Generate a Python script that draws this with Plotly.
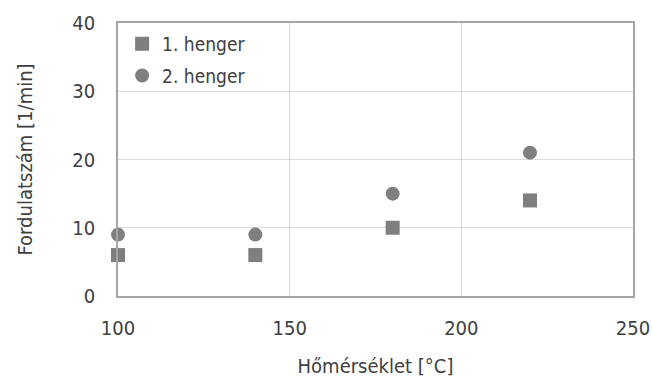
import plotly.graph_objects as go

temps = [100, 140, 180, 220]
henger1 = [6, 6, 10, 14]
henger2 = [9, 9, 15, 21]
series_names = ["1. henger", "2. henger"]
x_ticks = [100, 150, 200, 250]
y_ticks = [0, 10, 20, 30, 40]

FONT = "DejaVu Sans Condensed"
MARK = "#7f7f7f"
TXT = "#404040"

fig = go.Figure()
fig.add_trace(go.Scatter(x=temps, y=henger1, mode="markers", name=series_names[0], legendgroup="a",
                         marker=dict(symbol="square", size=14, color=MARK), cliponaxis=False))
fig.add_trace(go.Scatter(x=temps, y=henger2, mode="markers", name=series_names[1], legendgroup="b",
                         marker=dict(symbol="circle", size=14, color=MARK), cliponaxis=False))

fig.update_layout(
    width=652, height=378,
    margin=dict(l=118, r=19, t=23, b=82),
    paper_bgcolor="white", plot_bgcolor="white",
    font=dict(family=FONT, size=20, color=TXT),
    showlegend=True,
    legend=dict(x=0.008, y=0.993, xanchor="left", yanchor="top",
                bgcolor="rgba(0,0,0,0)", font=dict(family=FONT, size=19, color=TXT),
                itemwidth=30, tracegroupgap=4),
    xaxis=dict(range=[100, 250], tickvals=x_ticks, showgrid=True, gridcolor="#d9d9d9",
               gridwidth=1, showline=True, linecolor="#a6a6a6", linewidth=1.5, mirror=True,
               zeroline=False, ticks="", ticklabelstandoff=13, automargin=False,
               tickfont=dict(family=FONT, size=20, color=TXT),
               title=dict(text="Hőmérséklet [°C]", font=dict(family=FONT, size=20, color=TXT), standoff=20)),
    yaxis=dict(range=[0, 40], tickvals=y_ticks, showgrid=True, gridcolor="#d9d9d9",
               gridwidth=1, showline=True, linecolor="#a6a6a6", linewidth=1.5, mirror=True,
               zeroline=False, ticks="", ticklabelstandoff=17, automargin=False,
               tickfont=dict(family=FONT, size=20, color=TXT),
               title=dict(text="Fordulatszám [1/min]", font=dict(family=FONT, size=20, color=TXT), standoff=34)),
)

fig.write_html("out.html", config={"displayModeBar": False},
               post_script="document.body.style.margin='0';document.body.style.overflow='hidden';")
